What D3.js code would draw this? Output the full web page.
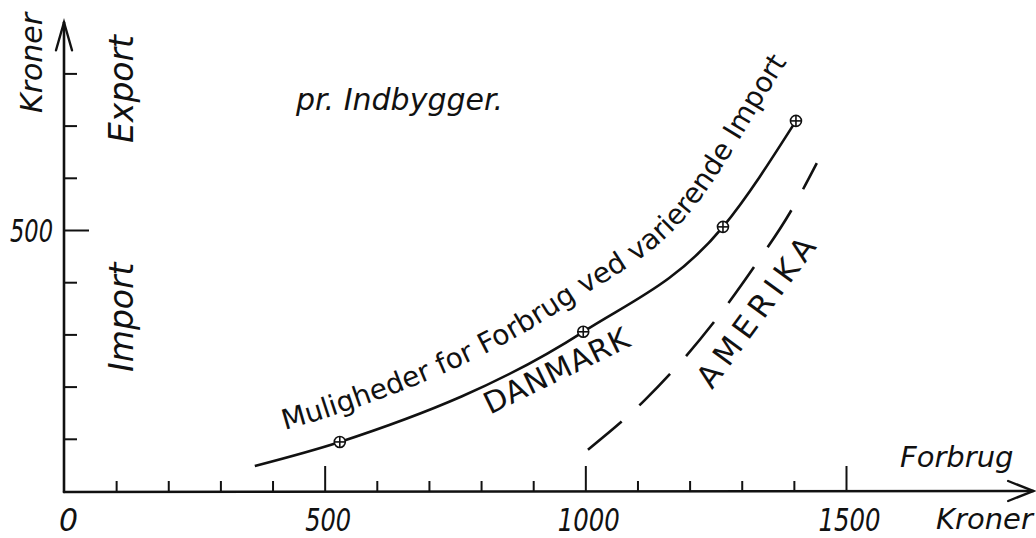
<!DOCTYPE html>
<html><head><meta charset="utf-8">
<script src="https://cdn.jsdelivr.net/npm/d3@7"></script>
<style>
html,body{margin:0;padding:0;background:#fff;}
svg{display:block;background:#fff;}
</style></head>
<body><svg id="c" width="1036" height="538"></svg>
<script>
// ---------- data ----------
const xTicks = [0,100,200,300,400,500,600,700,800,900,1000,1100,1200,1300,1400,1500];
const xMajor = [500,1000,1500];
const xTickLabels = ["0","500","1000","1500"];
const yTicks = [100,200,300,400,500,600,700,800];
const yMajor = [500];
const yTickLabels = ["500"];
// Danish consumption curve ("Muligheder for Forbrug ved varierende Import")
const curveX = [366,529,996,1264,1404];
const curveY = [48,94,305,506,709];
// marked points on the curve
const markX = [529,996,1264,1404];
const markY = [94,305,506,709];
// AMERIKA dashed curve
const ameX = [1005,1114,1254,1329,1393,1444];
const ameY = [79,174,333,437,534,628];
// axis extents (arrow tips)
const xAxisEnd = 1859;
const yAxisEnd = 898;
// texts
const curveLabel = "Muligheder for Forbrug ved varierende Import";
const seriesLabels = ["DANMARK","AMERIKA"];
const xAxisTitle = ["Forbrug","Kroner"];
const yAxisTitle = "Kroner";
const sideLabels = ["Export","Import"];
const subTitle = "pr. Indbygger.";

// ---------- drawing ----------
const svg = d3.select("#c");
const x = d3.scaleLinear().domain([0,1500]).range([64,846]);
const y = d3.scaleLinear().domain([0,500]).range([491,230]);
const ink = "#111";
const txtFont = "'DejaVu Sans',sans-serif";

// X axis
const gx = svg.append("g").attr("transform",`translate(0,${y(0)})`)
  .call(d3.axisBottom(x).tickValues(xTicks).tickSizeOuter(0).tickSizeInner(-10)
     .tickFormat(d => xTickLabels.includes(String(d)) ? String(d) : ""));
gx.select(".domain").remove();
gx.selectAll(".tick line").attr("stroke",ink).attr("stroke-width",2)
  .attr("y2", d => d===0 ? 0 : (xMajor.includes(d) ? -25 : -10));
gx.selectAll(".tick text").attr("dy",null).attr("y",40).attr("fill",ink)
  .attr("font-family",txtFont).attr("font-style","oblique").attr("font-size",32)
  .attr("dx", d => d===0 ? 4 : 3)
  .each(function(d){ const s=String(d); if (xTickLabels.includes(s)) d3.select(this).attr("textLength", s.length===1?19:(s.length===3?46:62)).attr("lengthAdjust","spacingAndGlyphs"); });

// Y axis
const gy = svg.append("g").attr("transform",`translate(${x(0)},0)`)
  .call(d3.axisLeft(y).tickValues(yTicks).tickSizeOuter(0).tickSizeInner(-13).tickPadding(11)
     .tickFormat(d => yTickLabels.includes(String(d)) ? String(d) : ""));
gy.select(".domain").remove();
gy.selectAll(".tick line").attr("stroke",ink).attr("stroke-width",2)
  .attr("x2", d => yMajor.includes(d) ? 25 : 13);
gy.selectAll(".tick text").attr("fill",ink)
  .attr("font-family",txtFont).attr("font-style","oblique").attr("font-size",32)
  .attr("dy","0.36em")
  .each(function(d){ if (yTickLabels.includes(String(d))) d3.select(this).attr("textLength",43).attr("lengthAdjust","spacingAndGlyphs"); });

// axis lines with arrows
const axisG = svg.append("g").attr("stroke",ink).attr("fill","none").attr("stroke-linecap","round");
axisG.append("line").attr("x1",x(0)).attr("y1",y(0)+1).attr("x2",x(xAxisEnd)).attr("y2",y(0)).attr("stroke-width",2.6);
axisG.append("line").attr("x1",x(0)).attr("y1",y(0)+1).attr("x2",x(0)).attr("y2",y(yAxisEnd)).attr("stroke-width",2.6);
const ax = x(xAxisEnd), ay = y(0);
axisG.append("path").attr("d",`M${ax-25},${ay-10} L${ax},${ay} L${ax-25},${ay+10}`).attr("stroke-width",2.4);
const bx = x(0), by = y(yAxisEnd);
axisG.append("path").attr("d",`M${bx-8},${by+28} L${bx},${by} L${bx+8},${by+28}`).attr("stroke-width",2.4);

// main curve
const curveData = curveX.map((v,i)=>[x(v),y(curveY[i])]);
const line = d3.line().curve(d3.curveMonotoneX);
const mainPath = svg.append("path").attr("id","mainCurve").attr("d",line(curveData))
  .attr("fill","none").attr("stroke",ink).attr("stroke-width",2.6);

// offset path for the curve label
const pNode = mainPath.node();
const L = pNode.getTotalLength();
const N = 160;
const offPts = [];
for (let i=0;i<=N;i++){
  const s = L*i/N;
  const off = 27 + 12*Math.pow(i/N,2);
  const a = pNode.getPointAtLength(Math.max(0,s-1)), b = pNode.getPointAtLength(Math.min(L,s+1));
  const p = pNode.getPointAtLength(s);
  let tx=b.x-a.x, ty=b.y-a.y; const tl=Math.hypot(tx,ty); tx/=tl; ty/=tl;
  offPts.push([p.x+ty*off, p.y-tx*off, tx, ty]);
}
const lastO = offPts[offPts.length-1];
offPts.push([lastO[0]+lastO[2]*80, lastO[1]+lastO[3]*80]);
svg.append("path").attr("id","labelPath").attr("d",d3.line()(offPts.map(p=>[p[0],p[1]])))
  .attr("fill","none").attr("stroke","none");
svg.append("text").attr("font-family",txtFont).attr("font-size",28).attr("fill",ink)
  .append("textPath").attr("href","#labelPath").attr("startOffset",38).text(curveLabel);

// markers
const mk = svg.append("g").attr("stroke",ink).attr("fill","#fff").attr("stroke-width",1.6);
markX.forEach((v,i)=>{
  const cx=x(v), cy=y(markY[i]);
  mk.append("circle").attr("cx",cx).attr("cy",cy).attr("r",5.5);
  mk.append("line").attr("x1",cx-5.5).attr("x2",cx+5.5).attr("y1",cy).attr("y2",cy);
  mk.append("line").attr("x1",cx).attr("x2",cx).attr("y1",cy-5.5).attr("y2",cy+5.5);
});

// AMERIKA dashed curve
const ameData = ameX.map((v,i)=>[x(v),y(ameY[i])]);
svg.append("path").attr("d",line(ameData)).attr("fill","none").attr("stroke",ink)
  .attr("stroke-width",2.6).attr("stroke-dasharray","44 24");

// series labels
function rotText(t, px, py, ang, size, opts={}){
  const el = svg.append("text").attr("transform",`translate(${px},${py}) rotate(${ang})`)
    .attr("font-family",opts.font||txtFont).attr("font-size",size).attr("fill",ink)
    .attr("font-style",opts.style||"normal").text(t);
  if (opts.len) el.attr("textLength",opts.len).attr("lengthAdjust","spacing");
  if (opts.anchor) el.attr("text-anchor",opts.anchor);
  return el;
}
rotText(seriesLabels[0], x(817), y(146), -26, 30, {len:158});
rotText(seriesLabels[1], x(1243), y(193), -53.7, 31, {len:178});

// axis titles
rotText(xAxisTitle[0], 900, 467, 0, 29, {style:"oblique"});
rotText(xAxisTitle[1], 936, 529, 0, 29, {style:"oblique"});
rotText(yAxisTitle, 42, 113, -90, 30, {style:"oblique"});
rotText(sideLabels[0], 133, 143, -90, 33, {style:"oblique"});
rotText(sideLabels[1], 133, 372, -90, 33, {style:"oblique"});
rotText(subTitle, 296, 110, 0, 30, {style:"oblique"});
</script>
</body></html>
